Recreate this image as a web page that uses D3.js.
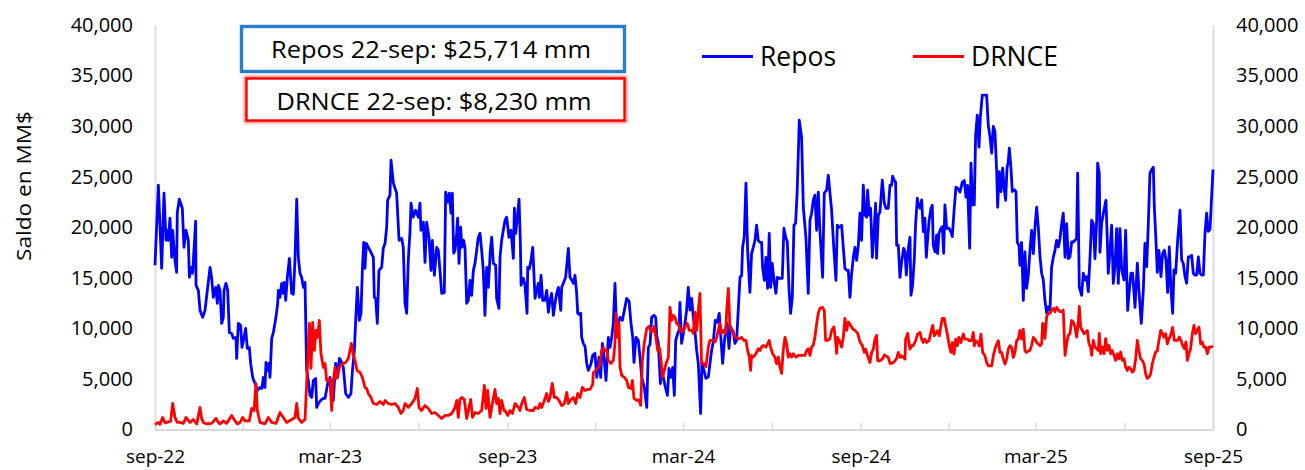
<!DOCTYPE html>
<html><head><meta charset="utf-8">
<script src="https://cdn.jsdelivr.net/npm/d3@7"></script>
<style>html,body{margin:0;padding:0;background:#fff;} svg{display:block;font-family:'Open Sans',sans-serif;}</style>
</head><body><svg id="chart" width="1305" height="470"></svg>
<script>
// ---- data ----
const startDate = Date.UTC(2022, 8, 22); // 22-sep-2022, day 0
const endDay = 1096;                      // 22-sep-2025
const seriesNames = ["Repos", "DRNCE"];
const boxLabels = ["Repos 22-sep: $25,714 mm", "DRNCE 22-sep: $8,230 mm"];
const yTicks = [0, 5000, 10000, 15000, 20000, 25000, 30000, 35000, 40000];
const xTickLabels = ["sep-22", "mar-23", "sep-23", "mar-24", "sep-24", "mar-25", "sep-25"];

const reposDays = [
0,3.5,6.9,9.3,11.4,12.8,13.8,15.5,17.3,18.3,
20.7,22.4,23.1,25.2,28.3,30,32.1,34.5,35.6,37.6,
39,42.1,42.5,44.9,46.6,49.4,51.8,54.2,57,58.7,
60.4,62.8,64.6,65.6,67.3,69.1,70.8,71.5,73.5,75.3,
77,79.4,81.1,83.9,84.6,86.3,88.7,90.1,92.2,93.9,
95.6,97.7,99.1,101.2,103.6,106,108.8,110.8,112.2,113.9,
115,116.7,118.1,119.1,120.9,122.6,125.3,127.1,127.8,129.5,
131.2,132.9,134,135.4,137.1,139.2,139.8,141.6,143.3,145,
146.8,148.5,150.2,151.9,153.7,155.4,157.1,158.8,160.6,162.3,
164,166.4,167.5,169.2,171.6,174.4,176.1,178.9,181.3,184.7,
187.1,189.2,191,192.7,195.1,197.5,200.3,203,204.4,206.5,
207.9,209.6,211.7,213.4,214.8,216.2,217.5,218.9,222.7,226.2,
227.2,228.6,230.3,232,234.8,236.5,238.3,240,241,243.4,
244.5,246.9,250.3,252.8,255.5,257.2,259,260.7,262.4,264.1,
265.2,267.6,270,272.8,274.5,275.5,278,279.7,281.4,283.8,
285.9,287.3,289.4,291.8,293.5,295.2,297,299.7,301.1,303.2,
304.9,306.6,308,309.4,310.8,312.5,313.5,314.9,316.6,318,
319.7,321.1,322.9,324.6,326.3,328,329.8,331.5,333.2,334.9,
336.7,338.4,340.1,341.8,343.6,345.3,347.4,348.8,350.5,352.9,
353.9,356.3,357.4,359.1,360.8,362.6,364.3,366.7,368.8,371.2,
372.3,373.6,375.4,377.1,378.5,379.2,381.6,383.3,385.4,386.1,
387.8,389.5,391.3,393.7,395.4,397.1,398.2,399.9,401.6,404,
405.8,407.5,409.2,410.9,412.7,414.4,416.1,417.9,420.3,421.3,
423,425.4,428.2,429.9,431.7,433.4,435.1,436.8,437.9,439.3,
441,442,443.7,445.5,447.2,448.9,451.7,453.4,455.8,457.6,
460,461.7,463.4,465.2,467.2,469.6,471.4,473.1,474.8,476.5,
478.3,480,481.7,484.1,486.2,488.6,491.1,493.1,494.9,496.2,
498.3,500.7,502.4,504.2,506.9,509.4,511.1,512.8,514.5,516.9,
518.7,519.7,521.4,523.5,524.9,526.6,528.3,530.8,532.5,534.2,
536.3,538,539.4,541.5,542.9,543.8,545.5,547.3,549,550.7,
552.4,554.2,555.9,557.6,559.3,561.1,562.8,565.2,566.6,568.7,
570.7,573.2,574.9,576.6,578.3,580.4,582.5,584.5,586.6,588,
589.7,591.5,592.8,594.6,596.3,599,600.8,602.5,604.2,606,
607.7,608.7,610.4,612.2,613.9,616.3,618,619.8,621.5,623.2,
624.9,626.7,628.4,629.4,631.2,632.9,634.6,636.3,637.7,639.4,
641.2,643.2,644.6,647.4,649.8,651.5,653.6,655,656.7,658.4,
660.2,661.9,663.6,665.3,667.4,669.8,671.6,674.3,676.7,678.5,
680.2,681.9,683.6,685.4,687.1,688.8,691.6,693.3,695.7,697.5,
699.2,700.9,703.3,705.4,706.8,708.9,711.3,713,714.7,716.5,
718.2,719.9,721.6,723.4,725.1,726.8,728.6,730.3,732,733.7,
735.5,737.2,738.2,740,741.3,743.1,744.8,746.5,747.5,749.3,
751,753.4,755.5,757.2,759.6,761.4,763.1,764.1,765.8,767.2,
768.3,770,771.7,773.4,775.5,776.9,778.3,780.4,782.1,783.1,
784.8,786.6,787.9,789.7,790.7,792.4,794.2,795.9,797.6,799,
800.4,801.8,803.8,805.2,806.2,808,809.7,810.7,812.1,814.2,
815.6,817,818.3,820.1,822.5,824.5,825.9,827.7,829.7,832.1,
833.9,836.3,838.4,840.1,841.8,843.9,845.3,847,848.7,850.1,
851.8,853.6,854.9,857,859.8,861.5,863.2,865,866.7,868.4,
870.1,871.9,872.9,874.6,876.3,878.1,879.8,881.2,882.6,883.9,
885,886.7,888.1,890.2,891.9,893.3,895,896,897.7,899.5,
901.2,902.9,904.7,906.4,908.1,909.9,911.6,913.3,915,916.8,
918.5,920.2,921.9,923.7,925.4,927.1,928.8,930.6,932.3,934,
935.8,937.5,939.2,940.9,942.7,944.4,946.1,947.8,949.6,951.3,
953,954.7,955.8,957.5,959.9,961.6,963.4,965.1,966.8,968.6,
970.3,972,973.7,975.5,976.5,978.2,978.9,980.6,982.4,985.1,
986.5,987.5,989.3,991,992.7,994.5,996.2,997.9,999.6,1001.4,
1003.8,1005.5,1007.6,1009.3,1011,1012.7,1015.2,1017.6,1019.7,1021.7,
1023.8,1025.5,1027.3,1029,1030.7,1032.4,1034.2,1035.2,1036.9,1038.3,
1040,1042.1,1043.8,1045.6,1047.3,1049,1050.7,1052.5,1054.2,1055.6,
1057.3,1059.4,1061.8,1063.5,1065.2,1067,1068.7,1070.4,1072.1,1073.9,
1075.6,1077.3,1079.1,1080.8,1082.5,1084.2,1086,1087.7,1089.4,1091.1,
1092.9,1096
];
const reposValues = [
16240,24160,15940,23370,18710,19700,18700,20900,17030,19700,
16730,15550,21490,22770,21880,18020,19700,18700,15050,16040,
15450,20600,14260,13760,11780,11090,11780,13760,16040,14950,
13070,14060,12480,14260,13760,10500,11090,13760,14450,13760,
9600,9500,9010,9100,7030,10500,10300,8120,9100,10000,
8020,8120,6530,5150,4550,3860,4160,4060,5150,4160,
6630,5840,6530,5150,9010,9600,11090,12480,13760,13070,
14450,13460,14550,12770,15050,16930,16040,13460,13370,16730,
22770,17030,15450,15050,14060,14550,5840,4850,3370,3170,
4850,5050,2180,2570,2870,3070,3070,4550,5150,2870,
6530,5150,7030,6800,6140,3560,3170,3560,5640,7820,
10790,14060,10790,11490,15740,18510,15940,18410,17720,17030,
13070,12970,10500,15740,16040,17920,18410,20000,22670,23170,
26630,24360,23370,18710,18900,18020,12470,11490,16730,19500,
22380,21000,21680,21000,22380,19700,20500,16530,20500,19010,
15740,18710,15250,18020,17720,15740,13460,13530,23470,22480,
23370,21390,23370,17430,17720,19400,20900,16430,20000,18020,
18710,18020,12470,12770,14750,13270,15740,16430,17720,19010,
19400,17720,15740,11290,16040,14060,17720,19010,16430,16240,
12970,11980,17030,18710,19700,20690,21000,19010,19700,16930,
21880,19400,21000,22770,18410,14260,14950,14260,11490,16040,
15900,16730,18020,12970,13760,14450,13070,15250,12770,12770,
13760,11580,12770,13460,11290,12480,13460,14060,11780,14060,
14450,15050,17920,15050,14750,14450,15250,13460,11490,11390,
11490,9110,8510,8220,6530,5840,6530,7330,7530,5150,
7130,5150,8510,7130,4850,9110,8120,9110,10500,14450,
9310,10500,11090,10790,11780,12970,12670,10500,9110,6630,
9110,8810,7130,5150,4160,2180,8120,8420,11090,11290,
11090,9310,8510,4550,5840,5150,4350,3370,6040,5150,
6140,3370,8810,9500,9800,12570,8510,9500,10500,11800,
14060,11800,12970,11150,9800,7820,6530,1580,6530,5840,
5050,5200,6530,7820,8660,10790,10600,11490,8510,6530,
8510,10150,10500,8020,10150,9660,8510,8810,11800,15050,
15220,18020,19010,24360,17720,13560,17390,18020,18710,20200,
18710,18510,18510,16040,14750,17030,13960,19400,14060,16430,
14750,13460,15050,14950,14950,19900,18900,18610,14060,11490,
13070,20200,20400,23660,30590,28910,21980,19010,13460,20690,
21390,22670,23170,19700,23470,19700,15050,23370,23660,25150,
23370,21690,17720,14750,20200,20000,20200,18020,15940,15740,
15740,13070,15350,17030,18020,16730,18220,21390,18710,24160,
21190,20990,23660,21190,21880,17030,19500,22380,16930,21190,
21490,24650,22380,21880,21880,24160,24160,25050,24650,24460,
18220,18220,15050,16530,17920,17590,15280,17920,19010,13270,
14260,16930,20230,22870,22210,21880,22700,19560,20890,17030,
18840,20560,21880,22180,18220,17560,19210,17390,19400,19900,
20060,17430,22210,19900,19900,19560,19070,21550,23960,23800,
23470,24460,24620,22970,24130,17920,26340,22210,22210,29110,
31090,27920,30790,33070,33070,33070,30100,28940,27330,29970,
29470,25510,21980,25510,23530,25840,23700,22670,25840,26500,
27820,25840,23530,23700,23530,18510,18180,16240,18510,12770,
17560,13960,15280,17720,19700,17390,20030,21980,20030,17060,
15450,14790,12770,11490,12140,11810,16040,17060,17720,18710,
18050,18870,20360,21390,17030,20360,16900,17060,18540,18540,
18710,18870,25350,14060,13270,15450,14790,15120,13630,17060,
20690,20360,16900,20690,26340,25350,17520,20360,21350,22670,
18710,15450,17720,20200,14450,16110,19870,14450,19870,15780,
14790,19700,11780,13760,15450,15450,12080,16440,13140,10500,
13760,18410,16110,20360,25350,25680,25940,22010,18710,15540,
17720,15120,17390,17720,16770,13560,18050,13760,11490,15780,
15450,18710,21680,16770,16440,15120,14460,17060,17060,17230,
15450,15280,15280,17060,15450,15280,15280,19400,21390,19600,
19800,25714
];

const drnceDays = [
0,3.5,5.2,7.9,10.4,13.8,16.2,18.3,20.7,23.1,
25.9,29.4,32.1,34.5,36.3,39.7,43.2,46.6,48.3,50.1,
53.5,58.7,63.2,65.6,67.3,70.8,74.2,79.4,82.9,85.3,
88.1,90.8,93.2,97.7,100.1,102.6,104.6,106,108.8,113.9,
117.4,120.9,125.3,129.5,132.9,136.4,141.6,145,146.8,148.5,
151.9,155.4,157.1,158.1,159.9,161.6,163.3,165.1,166.8,168.5,
170.2,171.9,174.4,176.1,177.8,181.3,183,184.7,186.5,188.2,
191.6,195.1,197.5,200.3,202,203.4,205.1,207.2,209.3,212.4,
214.8,217.5,219.3,221,223.7,226.2,229.6,233.1,236.5,238.3,
241.7,245.2,248.6,252.1,254.8,257.2,259,262.4,265.9,269.3,
271.7,273.5,276.2,279.7,283.1,286.6,290,293.5,297,300.4,
303.9,307.3,310.8,312.5,314.2,315.9,317.7,320.4,322.9,324.6,
327,328.9,331.5,334.9,338.4,341.2,342.9,344.6,347,349.5,
352.2,353.9,355.7,357.4,359.1,361.5,362.6,365.4,367.8,370.2,
373,376.4,378.1,379.9,382.6,385,388.5,391.9,393.7,397.1,
398.9,400.6,403.3,405.8,407.5,409.2,411.6,413.7,416.1,418.5,
421.3,424.1,426.5,428.2,431,433.4,435.8,437.9,440.3,442.7,
445.5,448.2,450.6,453.4,454.1,456.5,459.3,461,462.7,464.5,
466.2,467.9,469.6,472.4,474.8,476.5,477.6,479.3,480.7,481.7,
483.5,486.2,488.6,490.4,493.1,494.5,496.2,499,501.4,503.1,
504.9,506.9,509.4,511.8,513.5,515.6,517.3,518.7,520.7,522.5,
523.9,525.6,527.7,529.4,531.8,533.5,535.3,537,538.7,540.4,
542.9,543.8,546.6,549,551.4,553.5,555.9,557.6,559.3,561.1,
562.8,564.5,566.2,568.7,570.7,573.2,574.9,576.6,578.3,580.1,
581.8,583.5,585.2,587,588.7,591.1,592.1,593.9,595.6,597.3,
599,600.8,602.5,605.3,607.7,610.1,612.2,613.9,615.6,617,
618,619.8,622.5,624.9,626.7,628.4,630.1,632.9,634.6,636.3,
637.7,639.8,642.2,643.9,645.7,647.4,649.1,650.8,652.6,654.3,
656,657.7,659.5,661.2,664,666.4,669.8,673.3,675,676.7,
678.5,680.2,681.9,683.6,685.4,687.1,688.8,691.6,693.3,694.7,
696.8,699.2,700.9,703.3,704.7,706.1,707.1,708.9,711.3,713,
714.7,716.5,718.2,719.9,722.7,725.1,727.9,730.3,732.7,734.8,
736.1,738.2,740.6,742.4,744.1,745.8,747.5,748.6,751,753.4,
755.5,757.9,759.6,761.4,763.1,765.8,768.3,770,771.7,773.4,
775.2,776.9,777.6,779.7,782.1,783.8,785.5,787.9,790,792.4,
794.2,795.9,797.6,799.3,801.8,803.8,805.6,807.3,808.7,810.7,
812.5,814.2,815.6,817.6,819,821.1,822.8,824.5,825.9,827.7,
829.4,831.1,832.8,834.9,837.3,839,841.8,843.5,845.9,847.7,
848.7,850.1,852.2,853.9,855.6,857.4,859.8,861.5,863.2,865,
866.7,868.4,870.1,871.9,873.6,875.3,877,878.8,880.5,882.2,
883.9,885.7,887.4,889.1,890.8,892.6,894.3,896,897.7,899.5,
901.2,902.9,905.3,906.4,908.1,909.9,911.6,913.3,915,916.8,
918.5,919.5,920.9,921.9,923.7,925.4,927.1,928.8,930.6,932.3,
934,935.8,937.5,939.2,940.9,942.7,944.4,946.1,947.8,949.6,
951.3,953,954.7,956.5,957.5,958.9,960.6,962.3,964.1,965.8,
967.5,969.2,970.3,972,973.7,975.5,977.2,978.2,979.6,981.3,
983.1,984.8,986.5,988.2,990,991.7,993.4,995.1,996.9,998.6,
1000.3,1002,1003.8,1005.5,1007.2,1008.9,1010.7,1012.4,1014.1,1015.9,
1017.6,1019.3,1021,1022.8,1024.5,1026.2,1027.9,1029.7,1031.4,1033.1,
1034.9,1036.6,1038.3,1040,1041.8,1043.5,1045.2,1046.9,1048.7,1050.4,
1052.1,1054.2,1055.9,1057.6,1059.4,1061.1,1062.8,1064.5,1066.3,1068,
1069.4,1071.1,1072.8,1074.6,1076.3,1078,1079.7,1081.5,1083.2,1084.9,
1086.6,1088.4,1090.1,1091.8,1093.5,1096
];
const drnceValues = [
500,700,500,1190,650,750,800,2570,1190,700,
700,600,1190,900,700,990,550,2180,1100,700,
550,600,1100,700,550,850,600,1390,850,550,
700,1190,850,850,2080,1880,4550,1880,700,550,
1190,700,600,1680,1190,700,990,1190,2570,1100,
700,1000,4550,6530,10500,6040,10600,7820,9800,9100,
10790,7520,6140,6530,4850,4950,1880,4850,6140,5050,
6300,6530,6630,7030,7820,8510,7520,6830,5840,5640,
5150,4160,4060,3560,3170,2570,2470,2770,2470,2870,
2570,2470,2570,2180,1580,1880,2570,2180,2570,3070,
4060,2180,1880,2370,2080,1580,1680,1390,1090,1390,
1390,1580,2180,2870,1190,2970,3170,2970,1090,1880,
2970,1190,1680,1580,1880,4360,2080,3860,1190,2570,
3960,2570,3070,1580,2870,1880,1880,1390,1880,1580,
2570,2180,1880,2570,3170,1980,1880,1880,2180,2080,
2570,2180,2870,3560,2770,3170,4550,3170,3170,2870,
2370,2570,3660,2570,2970,3170,2570,3560,3170,4160,
3860,3960,3960,4460,5640,5840,6140,6530,7820,8120,
7820,7820,6830,6530,6830,8510,11490,9110,10500,6140,
5350,5150,4850,4160,4060,4850,3070,2870,2930,2380,
6830,8610,10000,10200,9700,9700,10200,9200,7820,8120,
7130,5150,5840,6530,7130,12080,10790,11290,11090,10500,
10300,9800,9660,10150,10500,9800,9800,9500,11580,9800,
11800,13460,6530,6530,6200,8120,8810,8810,8810,8660,
9110,9800,10500,9500,9800,9500,11490,13960,10150,9800,
9660,9110,9110,8960,9110,8810,8810,7820,7160,5840,
7330,7160,7490,7990,7820,8150,8320,8150,8480,8810,
8150,7490,7160,6500,7160,6170,5540,7820,9110,8480,
7160,7490,7160,7490,7160,7330,7330,7330,7820,7990,
7330,8150,8320,9110,10430,11490,11980,12080,11750,8810,
8810,8980,9800,10150,9110,7520,9110,8810,8150,9110,
10990,9800,10630,10430,9960,9800,9500,8660,8320,7620,
7950,7290,6630,7620,7950,8940,9310,6800,6800,6960,
7360,7230,7130,6530,6530,6700,7030,7620,7130,7290,
7130,6960,8940,9500,7950,8280,8280,8780,9440,9600,
8940,8610,8940,8610,8780,9600,10300,9270,9440,9770,
9270,10270,10990,10990,10270,9270,8280,7620,8610,7450,
8940,8280,9110,8610,9440,8940,8940,8780,8780,9600,
8280,8780,8610,8280,9440,7620,7290,6630,6300,6300,
6300,7290,7950,8450,8780,7620,7620,6960,6470,6960,
7950,8280,8110,7130,7620,8780,8940,9800,8940,9930,
7790,7620,7790,7820,8320,9110,8940,8610,8450,8280,
8450,10500,10340,9010,11160,11490,11490,11820,11980,11650,
12080,11820,11650,11650,11820,7330,8480,9310,9470,10790,
10630,10130,9140,10630,12180,10130,9800,9470,9640,9800,
8480,8150,7330,8810,8150,7990,7820,9500,7490,8150,
7490,8980,7820,8320,7490,7820,7330,6830,7490,7000,
7660,6830,7000,6170,5840,6170,6010,5680,5840,7000,
8810,7820,7000,6830,6500,5510,5050,5180,5510,6500,
7160,7660,7760,8810,9800,9470,9140,9470,8480,8980,
9310,10100,8810,8810,8810,9140,8810,8320,7990,8650,
6830,7490,7990,9470,10300,9470,9800,10130,8480,8650,
8150,8150,7490,8150,8150,8230
];

// ---- chart ----
const svg = d3.select("#chart");
const toDate = d => new Date(startDate + d * 864e5);
const x = d3.scaleUtc().domain([toDate(0), toDate(endDay)]).range([155, 1213]);
const y = d3.scaleLinear().domain([0, 40000]).range([429.5, 25]);
const textColor = "#000000";
const axisColor = "#d9d9d9";

const defs = svg.append("defs");
defs.append("filter").attr("id", "glow").attr("x", "-5%").attr("y", "-30%").attr("width", "110%").attr("height", "160%")
  .append("feGaussianBlur").attr("stdDeviation", 1.6);

// left axis
const gl = svg.append("g").attr("transform", "translate(155,0)")
  .call(d3.axisLeft(y).tickValues(yTicks).tickSize(0).tickPadding(22).tickFormat(d3.format(",")));
// right axis
const gr = svg.append("g").attr("transform", "translate(1213,0)")
  .call(d3.axisRight(y).tickValues(yTicks).tickSize(0).tickPadding(23).tickFormat(d3.format(",")));
// bottom axis
const tickDates = d3.range(0, 13).map(i => d3.utcMonth.offset(toDate(0), 3 * i));
const gb = svg.append("g").attr("transform", "translate(0,429.5)")
  .call(d3.axisBottom(x).tickValues(tickDates).tickSizeInner(-7).tickSizeOuter(0).tickPadding(20)
    .tickFormat((d, i) => i % 2 === 0 ? xTickLabels[i / 2] : ""));
[gl, gr, gb].forEach(g => {
  g.select(".domain").attr("stroke", axisColor).attr("stroke-width", 1.8);
  g.selectAll(".tick line").attr("stroke", axisColor).attr("stroke-width", 1.5);
  g.selectAll("text").attr("fill", textColor).style("font-size", "20px").style("font-family", "'Open Sans',sans-serif");
});
gb.selectAll("text").style("font-size", "19px");

// y title
svg.append("text").attr("transform", "translate(31,186) rotate(-90)")
  .attr("text-anchor", "middle").attr("fill", textColor)
  .style("font-size", "20px").attr("textLength", 150).attr("lengthAdjust", "spacingAndGlyphs")
  .text("Saldo en MM$");

// lines
const mk = (days, vals) => days.map((d, i) => ({ date: toDate(d), v: vals[i] }));
const line = d3.line().x(d => x(d.date)).y(d => y(d.v));
svg.append("path").datum(mk(reposDays, reposValues)).attr("d", line)
  .attr("fill", "none").attr("stroke", "#0000ff").attr("stroke-width", 2.8).attr("stroke-linejoin", "round");
svg.append("path").datum(mk(drnceDays, drnceValues)).attr("d", line)
  .attr("fill", "none").attr("stroke", "#ff0000").attr("stroke-width", 2.8).attr("stroke-linejoin", "round");

// legend
const legend = [{ name: seriesNames[0], color: "#0000ff", x: 702 }, { name: seriesNames[1], color: "#ff0000", x: 913 }];
legend.forEach(l => {
  svg.append("line").attr("x1", l.x).attr("x2", l.x + 51).attr("y1", 56.5).attr("y2", 56.5)
    .attr("stroke", l.color).attr("stroke-width", 2.8);
  svg.append("text").attr("x", l.x + 58).attr("y", 65.5).attr("fill", textColor)
    .style("font-size", "26.5px").text(l.name);
});

// annotation boxes
svg.append("rect").attr("x", 241.5).attr("y", 26.5).attr("width", 383).attr("height", 45)
  .attr("fill", "#fff").attr("stroke", "#2a7ccc").attr("stroke-width", 3.4);
svg.append("text").attr("x", 431).attr("y", 58).attr("text-anchor", "middle").attr("fill", textColor)
  .style("font-size", "23.5px").attr("textLength", 320).attr("lengthAdjust", "spacingAndGlyphs").text(boxLabels[0]);

svg.append("rect").attr("x", 246.5).attr("y", 78.5).attr("width", 378).attr("height", 42)
  .attr("fill", "none").attr("stroke", "#ff0000").attr("stroke-width", 5).attr("opacity", 0.55).attr("filter", "url(#glow)");
svg.append("rect").attr("x", 246.5).attr("y", 78.5).attr("width", 378).attr("height", 42)
  .attr("fill", "#fff").attr("stroke", "#ff0000").attr("stroke-width", 2.4);
svg.append("text").attr("x", 434).attr("y", 110).attr("text-anchor", "middle").attr("fill", textColor)
  .style("font-size", "23.5px").attr("textLength", 315).attr("lengthAdjust", "spacingAndGlyphs").text(boxLabels[1]);
</script></body></html>
